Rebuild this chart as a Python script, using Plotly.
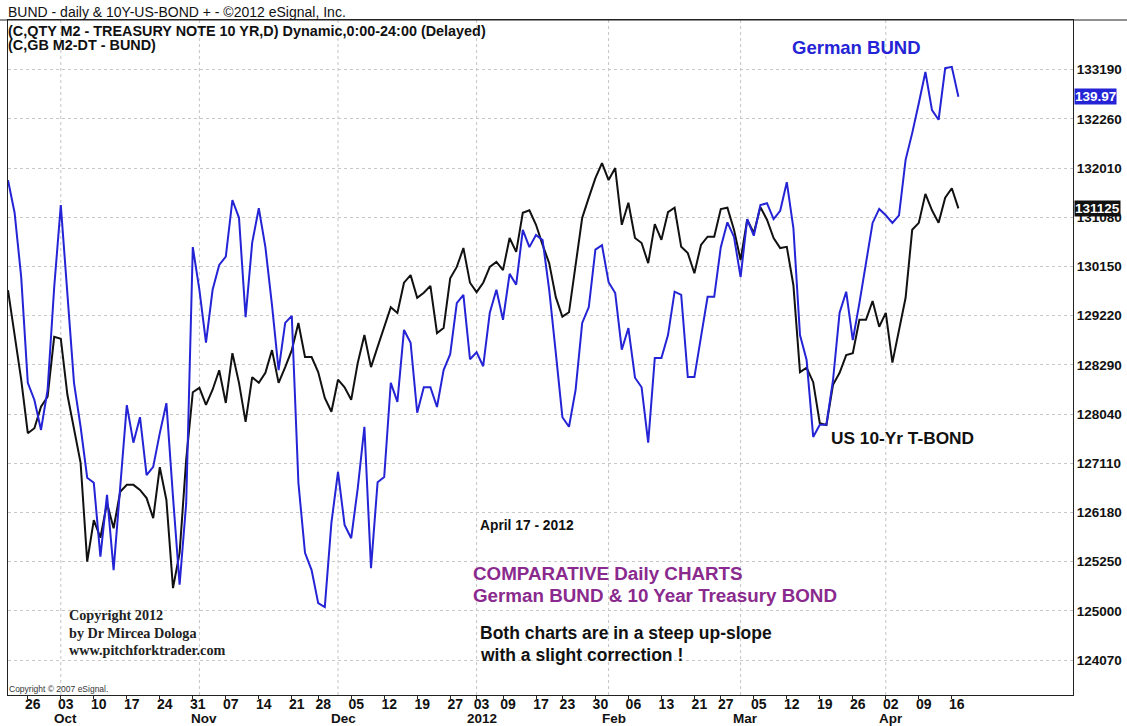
import pandas as pd
import plotly.graph_objects as go

# ---------------- data ----------------
holidays = ["2011-11-24", "2011-12-26", "2012-01-02", "2012-01-16", "2012-02-20"]
dates = [d.strftime("%Y-%m-%d") for d in pd.bdate_range("2011-09-21", "2012-04-17")
         if d.strftime("%Y-%m-%d") not in holidays]

tbond = [
    130.09, 129.38, 128.67, 127.82, 127.90, 128.24, 128.40, 129.35, 129.32, 128.43,
    127.87, 127.35, 125.78, 126.44, 126.16, 126.71, 126.31, 126.89, 127.00, 127.00,
    126.92, 126.79, 126.47, 127.28, 126.76, 125.36, 125.92, 127.40, 128.47, 128.54,
    128.27, 128.51, 128.82, 128.30, 129.09, 128.62, 128.00, 128.71, 128.62, 128.78,
    129.14, 128.62, 128.87, 129.14, 129.57, 129.03, 129.03, 128.79, 128.38, 128.16,
    128.67, 128.55, 128.35, 128.94, 129.38, 128.87, 129.19, 129.49, 129.82, 129.73,
    130.21, 130.33, 129.97, 130.05, 130.16, 129.41, 129.49, 130.28, 130.46, 130.76,
    130.21, 130.06, 130.21, 130.46, 130.54, 130.41, 130.92, 130.70, 131.32, 131.36,
    131.13, 130.81, 130.52, 129.98, 129.67, 129.74, 130.52, 131.24, 131.56, 131.87,
    132.11, 131.84, 132.03, 131.13, 131.48, 130.92, 130.84, 130.52, 131.14, 130.89,
    131.33, 131.40, 130.78, 130.68, 130.36, 130.81, 130.94, 130.94, 131.38, 131.40,
    131.05, 130.57, 131.21, 131.00, 131.41, 131.21, 130.92, 130.76, 130.78, 130.17,
    128.79, 128.86, 128.63, 127.98, 127.95, 128.59, 128.78, 129.06, 129.09, 129.62,
    129.62, 129.92, 129.51, 129.73, 128.94, 129.46, 129.97, 131.05, 131.16, 131.62,
    131.36, 131.16, 131.56, 131.71, 131.39,
]

bund = [
    138.66, 138.15, 137.14, 135.48, 135.21, 134.74, 135.37, 136.98, 138.27, 136.94,
    135.48, 134.79, 133.99, 133.91, 132.75, 133.72, 132.54, 133.84, 135.13, 134.54,
    134.94, 134.03, 134.16, 134.69, 135.16, 133.69, 132.31, 133.59, 137.61, 136.94,
    136.11, 136.94, 137.33, 137.46, 138.35, 138.07, 136.51, 137.68, 138.22, 137.61,
    136.70, 135.68, 136.42, 136.53, 133.91, 132.81, 132.54, 132.02, 131.96, 133.28,
    134.08, 133.25, 133.04, 133.83, 134.79, 132.57, 133.92, 134.00, 135.48, 135.18,
    136.31, 136.11, 135.01, 135.41, 135.41, 135.10, 135.68, 135.93, 136.73, 136.86,
    135.85, 135.96, 135.74, 136.58, 136.94, 136.47, 137.19, 137.02, 137.88, 137.61,
    137.80, 137.72, 136.94, 135.95, 134.94, 134.79, 135.37, 136.42, 136.67, 137.57,
    137.64, 137.06, 136.89, 136.00, 136.34, 135.56, 135.41, 134.54, 135.87, 135.87,
    136.23, 136.91, 136.86, 135.57, 135.57, 136.20, 136.83, 136.83, 137.61, 138.00,
    137.77, 137.14, 138.05, 137.79, 138.27, 138.30, 138.05, 138.18, 138.63, 137.91,
    136.23, 135.84, 134.63, 134.82, 134.82, 135.52, 136.58, 136.91, 136.15, 136.73,
    137.36, 137.99, 138.21, 138.11, 137.99, 138.11, 138.98, 139.40, 139.87, 140.36,
    139.76, 139.61, 140.42, 140.44, 139.97,
]

week_ticks = ["2011-09-26", "2011-10-03", "2011-10-10", "2011-10-17", "2011-10-24",
              "2011-10-31", "2011-11-07", "2011-11-14", "2011-11-21", "2011-11-28",
              "2011-12-05", "2011-12-12", "2011-12-19", "2011-12-27", "2012-01-03",
              "2012-01-09", "2012-01-17", "2012-01-23", "2012-01-30", "2012-02-06",
              "2012-02-13", "2012-02-21", "2012-02-27", "2012-03-05", "2012-03-12",
              "2012-03-19", "2012-03-26", "2012-04-02", "2012-04-09", "2012-04-16"]
week_labels = [d[-2:] for d in week_ticks]

month_starts = ["2011-10-03", "2011-11-01", "2011-12-01", "2012-01-03",
                "2012-02-01", "2012-03-01", "2012-04-02"]
month_labels = ["Oct", "Nov", "Dec", "2012", "Feb", "Mar", "Apr"]

price_ticks = ["124070", "125000", "125250", "126180", "127110", "128040", "128290",
               "129220", "130150", "131080", "132010", "132260", "133190"]

tbond_last_label = "131125"
bund_last_label = "139.97"

# ---------------- layout helpers ----------------
W, H = 1127, 726
L, R, T, B = 8, 1073, 20, 695


def px(x):
    return (x - L) / (R - L)


def py(y):
    return (B - y) / (B - T)


def bond32(s):
    return int(s[:3]) + int(s[3:5]) / 32 + int(s[5]) / 320


tick_vals = [bond32(s) for s in price_ticks]

FONT = "Liberation Sans, Arial, sans-serif"
SERIF = "Liberation Serif, Times New Roman, serif"
BLUE = "#2424d6"
PURPLE = "#8a2a8e"

fig = go.Figure()
fig.add_trace(go.Scatter(x=dates, y=bund, yaxis="y2", mode="lines",
                         line=dict(color=BLUE, width=2), name="BUND"))
fig.add_trace(go.Scatter(x=dates, y=tbond, yaxis="y", mode="lines",
                         line=dict(color="#111111", width=2), name="T-NOTE"))

shapes = []
for d in month_starts:
    shapes.append(dict(type="line", xref="x", yref="paper", x0=d, x1=d, y0=0, y1=1,
                       line=dict(color="#c4c4c4", width=1, dash="dot"), layer="below"))
shapes.append(dict(type="line", xref="paper", yref="paper", x0=px(0), x1=px(W),
                   y0=1, y1=1, line=dict(color="#222", width=1)))

ann = []


def text(x, y, t, size, color="#111", bold=True, family=FONT, xref="paper", yref="paper",
         xanchor="left", **kw):
    ann.append(dict(x=x, y=y, xref=xref, yref=yref, text=("<b>%s</b>" % t) if bold else t,
                    showarrow=False, xanchor=xanchor, yanchor="middle",
                    font=dict(size=size, color=color, family=family), **kw))


text(px(6), py(12), "BUND - daily &amp; 10Y-US-BOND + - ©2012 eSignal, Inc.", 14, bold=False)
text(px(6), py(31), "(C,QTY M2 - TREASURY NOTE 10 YR,D) Dynamic,0:00-24:00 (Delayed)", 14.4)
text(px(6), py(45), "(C,GB M2-DT - BUND)", 14.4)
text(px(790), py(48), "German BUND", 18.5, color=BLUE)
text(px(829), py(438), "US 10-Yr T-BOND", 17.3)
text(px(478), py(525), "April 17 - 2012", 13.8)
text(px(471), py(573), "COMPARATIVE Daily CHARTS", 18.8, color=PURPLE)
text(px(471), py(595), "German BUND &amp; 10 Year Treasury BOND", 18.8, color=PURPLE)
text(px(478), py(633), "Both charts are in a steep up-slope", 17.5)
text(px(478), py(655), "with a slight correction !", 17.5)
text(px(67), py(615), "Copyright 2012", 14.2, family=SERIF, color="#222")
text(px(67), py(633), "by Dr Mircea Dologa", 14.2, family=SERIF, color="#222")
text(px(67), py(650), "www.pitchforktrader.com", 14.2, family=SERIF, color="#222")
text(px(7), py(689), "Copyright © 2007 eSignal.", 8.5, bold=False, color="#333")

for d, m in zip(month_starts, month_labels):
    text(d, py(718), m, 13.5, xref="x", xanchor="center", xshift=5)

ann.append(dict(x=px(1074), y=bund[-1], xref="paper", yref="y2", text="<b>%s</b>" % bund_last_label,
                showarrow=False, xanchor="left", yanchor="middle", bgcolor=BLUE, borderpad=0,
                font=dict(size=13.5, color="white", family=FONT)))
ann.append(dict(x=px(1074), y=tbond[-1], xref="paper", yref="y", text="<b>%s</b>" % tbond_last_label,
                showarrow=False, xanchor="left", yanchor="middle", bgcolor="#111", borderpad=0,
                font=dict(size=13.5, color="white", family=FONT)))

n_span = (R - L) / 6.6
y_lo = bond32(price_ticks[0]) - 35 / 49.2 * 25 / 32
y_hi = bond32(price_ticks[0]) + 640 / 49.2 * 25 / 32
b_lo = 141.49 - 0.0157 * B
b_hi = 141.49 - 0.0157 * T

fig.update_layout(
    width=W, height=H,
    margin=dict(l=L, r=W - R, t=T, b=H - B, autoexpand=False),
    paper_bgcolor="white", plot_bgcolor="white",
    showlegend=False,
    font=dict(family=FONT, color="#111"),
    xaxis=dict(type="category", range=[0, n_span], tickmode="array",
               tickvals=week_ticks, ticktext=week_labels, ticks="outside", ticklen=3,
               tickcolor="#222", showgrid=False, zeroline=False,
               showline=True, linecolor="#222", linewidth=1, mirror=True,
               tickfont=dict(size=14, family=FONT, color="#111", weight="bold"),
               ticklabelshift=5, ticklabelstandoff=-7, automargin=False),
    yaxis=dict(side="right", range=[y_lo, y_hi], tickmode="array", tickvals=tick_vals,
               ticktext=price_ticks, ticks="", ticklen=0, showgrid=True, gridcolor="#c8c8c8",
               griddash="dot", zeroline=False, showline=True, linecolor="#222",
               linewidth=1, mirror=True, automargin=False,
               tickfont=dict(size=13.5, family=FONT, color="#111", weight="bold")),
    yaxis2=dict(overlaying="y", range=[b_lo, b_hi], visible=False),
    shapes=shapes,
    annotations=ann,
)

fig.write_html("out.html", config={"displayModeBar": False},
               post_script="document.body.style.margin='0px';document.body.style.overflow='hidden';")
